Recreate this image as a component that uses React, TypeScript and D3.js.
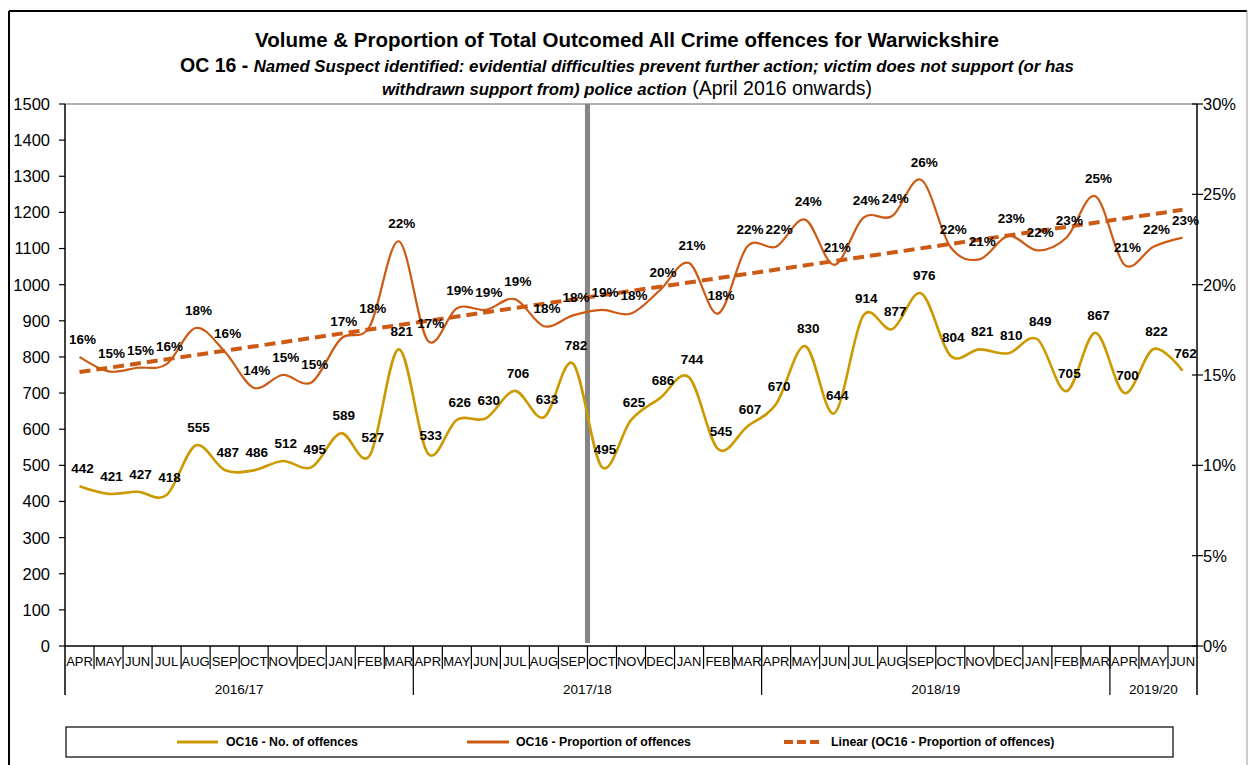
import React from "react";
import * as d3 from "d3";

// Month categories, April 2016 to June 2019
const months = [
  "APR", "MAY", "JUN", "JUL", "AUG", "SEP", "OCT", "NOV", "DEC", "JAN", "FEB", "MAR",
  "APR", "MAY", "JUN", "JUL", "AUG", "SEP", "OCT", "NOV", "DEC", "JAN", "FEB", "MAR",
  "APR", "MAY", "JUN", "JUL", "AUG", "SEP", "OCT", "NOV", "DEC", "JAN", "FEB", "MAR",
  "APR", "MAY", "JUN",
];

// Financial years and the number of months shown for each
const fiscalYears = ["2016/17", "2017/18", "2018/19", "2019/20"];
const fiscalYearMonths = [12, 12, 12, 3];

// OC16 - number of offences per month
const offences = [
  442, 421, 427, 418, 555, 487, 486, 512, 495, 589, 527, 821,
  533, 626, 630, 706, 633, 782, 495, 625, 686, 744, 545, 607,
  670, 830, 644, 914, 877, 976, 804, 821, 810, 849, 705, 867,
  700, 822, 762,
];

// OC16 - proportion of all outcomed offences (%)
const proportion = [
  16.0, 15.2, 15.4, 15.6, 17.6, 16.3, 14.3, 15.0, 14.6, 17.0, 17.7, 22.4,
  16.9, 18.7, 18.6, 19.2, 17.7, 18.3, 18.6, 18.4, 19.7, 21.2, 18.4, 22.1,
  22.1, 23.6, 21.1, 23.7, 23.8, 25.8, 22.1, 21.4, 22.7, 21.9, 22.6, 24.9,
  21.1, 22.1, 22.6,
];

// Index of the first month after the divider line (OCT 2017)
const dividerIndex = 18;

const leftTicks = [0, 100, 200, 300, 400, 500, 600, 700, 800, 900, 1000, 1100, 1200, 1300, 1400, 1500];
const rightTicks = [0, 5, 10, 15, 20, 25, 30];

const FONT = "'Liberation Sans', Arial, Helvetica, sans-serif";
const GOLD = "#CC9900";
const RUST = "#CC5A14";

export default function App() {
  const W = 1249;
  const H = 765;
  const left = 65;
  const right = 1197;
  const top = 104;
  const bottom = 646;

  const idx = months.map((_, i) => i);
  const x = d3.scaleBand<number>().domain(idx).range([left, right]).padding(0);
  const cx = (i: number) => (x(i) as number) + x.bandwidth() / 2;
  const yL = d3.scaleLinear().domain([0, 1500]).range([bottom, top]);
  const yR = d3.scaleLinear().domain([0, 30]).range([bottom, top]);

  const smooth = d3.curveCatmullRom.alpha(0);
  const countLine = d3.line<number>().x((_, i) => cx(i)).y((d) => yL(d)).curve(smooth);
  const propLine = d3.line<number>().x((_, i) => cx(i)).y((d) => yR(d)).curve(smooth);

  // Least-squares linear trend of the proportion series
  const n = proportion.length;
  const mx = d3.mean(idx) as number;
  const my = d3.mean(proportion) as number;
  const sxy = d3.sum(idx, (i) => (i - mx) * (proportion[i] - my));
  const sxx = d3.sum(idx, (i) => (i - mx) * (i - mx));
  const slope = sxy / sxx;
  const intercept = my - slope * mx;
  const trend = [0, n - 1].map((i) => [cx(i), yR(intercept + slope * i)] as [number, number]);

  // Fiscal year boundaries (month indices)
  const yearStarts: number[] = [];
  let acc = 0;
  fiscalYearMonths.forEach((m) => {
    yearStarts.push(acc);
    acc += m;
  });
  const bandStart = (i: number) => (i >= n ? right : (x(i) as number));

  const dividerX = bandStart(dividerIndex);

  return (
    <svg
      width={W}
      height={H}
      style={{ position: "absolute", left: 0, top: 0, background: "#fff" }}
      fontFamily={FONT}
    >
      <rect x={0} y={0} width={W} height={H} fill="#fff" />
      {/* outer frame */}
      <line x1={9} y1={11} x2={1247} y2={11} stroke="#000" strokeWidth={2} />
      <line x1={9} y1={11} x2={9} y2={H} stroke="#000" strokeWidth={2} />
      <line x1={1247} y1={11} x2={1247} y2={H} stroke="#999" strokeWidth={1} />

      {/* titles */}
      <text x={627} y={47} textAnchor="middle" fontSize={20.5} fontWeight="bold" fill="#000">
        Volume &amp; Proportion of Total Outcomed All Crime offences for Warwickshire
      </text>
      <text x={627} y={72} textAnchor="middle" fill="#000">
        <tspan fontSize={19.5} fontWeight="bold">OC 16 - </tspan>
        <tspan fontSize={16.8} fontWeight="bold" fontStyle="italic">
          Named Suspect identified: evidential difficulties prevent further action; victim does not support (or has
        </tspan>
      </text>
      <text x={627} y={95} textAnchor="middle" fill="#000">
        <tspan fontSize={16.8} fontWeight="bold" fontStyle="italic">withdrawn support from) police action</tspan>
        <tspan fontSize={19.5}> (April 2016 onwards)</tspan>
      </text>

      {/* plot frame */}
      <line x1={left} y1={top} x2={right} y2={top} stroke="#999" strokeWidth={1.5} />

      {/* left axis */}
      <line x1={left} y1={top} x2={left} y2={695} stroke="#000" strokeWidth={1.5} />
      {leftTicks.map((t) => (
        <g key={"l" + t}>
          <line x1={left - 6} x2={left} y1={yL(t)} y2={yL(t)} stroke="#000" strokeWidth={1.2} />
          <text x={50} y={yL(t)} dy="0.36em" textAnchor="end" fontSize={16.5} fill="#000">
            {t}
          </text>
        </g>
      ))}

      {/* right axis */}
      <line x1={right} y1={top} x2={right} y2={695} stroke="#000" strokeWidth={1.5} />
      {rightTicks.map((t) => (
        <g key={"r" + t}>
          <line x1={right - 5} x2={right + 6} y1={yR(t)} y2={yR(t)} stroke="#000" strokeWidth={1.2} />
          <text x={1203} y={yR(t)} dy="0.36em" textAnchor="start" fontSize={16.5} fill="#000">
            {t}%
          </text>
        </g>
      ))}

      {/* divider */}
      <line x1={dividerX} x2={dividerX} y1={top} y2={bottom - 3} stroke="#858585" strokeWidth={5} />

      {/* category axis */}
      <line x1={left} y1={bottom} x2={right} y2={bottom} stroke="#000" strokeWidth={1.5} />
      {idx.slice(1).map((i) => (
        <line key={"mt" + i} x1={x(i)} x2={x(i)} y1={bottom} y2={669} stroke="#000" strokeWidth={1.2} />
      ))}
      {months.map((m, i) => (
        <text key={"m" + i} x={cx(i)} y={666} textAnchor="middle" fontSize={13} fill="#000">
          {m}
        </text>
      ))}
      {yearStarts.slice(1).map((s) => (
        <line key={"ys" + s} x1={bandStart(s)} x2={bandStart(s)} y1={bottom} y2={695} stroke="#000" strokeWidth={1.2} />
      ))}
      {fiscalYears.map((fy, k) => {
        const a = bandStart(yearStarts[k]);
        const b = bandStart(yearStarts[k] + fiscalYearMonths[k]);
        return (
          <text key={fy} x={(a + b) / 2} y={694} textAnchor="middle" fontSize={13.5} fill="#000">
            {fy}
          </text>
        );
      })}

      {/* series */}
      <path d={countLine(offences) || ""} fill="none" stroke={GOLD} strokeWidth={2.6} />
      <path d={propLine(proportion) || ""} fill="none" stroke={RUST} strokeWidth={2.2} />
      <line
        x1={trend[0][0]}
        y1={trend[0][1]}
        x2={trend[1][0]}
        y2={trend[1][1]}
        stroke={RUST}
        strokeWidth={4}
        strokeDasharray="11 6"
      />

      {/* data labels */}
      {offences.map((v, i) => (
        <text key={"cl" + i} x={cx(i) + 3} y={yL(v) - 18} dy="0.36em" textAnchor="middle" fontSize={13.5} fontWeight="bold" fill="#000">
          {v}
        </text>
      ))}
      {proportion.map((v, i) => (
        <text key={"pl" + i} x={cx(i) + 3} y={yR(v) - 18} dy="0.36em" textAnchor="middle" fontSize={13.5} fontWeight="bold" fill="#000">
          {Math.round(v)}%
        </text>
      ))}

      {/* legend */}
      <rect x={66} y={727} width={1107} height={30} fill="#fff" stroke="#000" strokeWidth={1.2} />
      <line x1={177} x2={218} y1={742} y2={742} stroke={GOLD} strokeWidth={3} />
      <text x={226} y={742} dy="0.36em" fontSize={12.3} fontWeight="bold" fill="#000">
        OC16 - No. of offences
      </text>
      <line x1={467} x2={509} y1={742} y2={742} stroke={RUST} strokeWidth={3} />
      <text x={516} y={742} dy="0.36em" fontSize={12.3} fontWeight="bold" fill="#000">
        OC16 - Proportion of offences
      </text>
      <line x1={784} x2={823} y1={742} y2={742} stroke={RUST} strokeWidth={4} strokeDasharray="9 4" />
      <text x={831} y={742} dy="0.36em" fontSize={12.3} fontWeight="bold" fill="#000">
        Linear (OC16 - Proportion of offences)
      </text>
    </svg>
  );
}
